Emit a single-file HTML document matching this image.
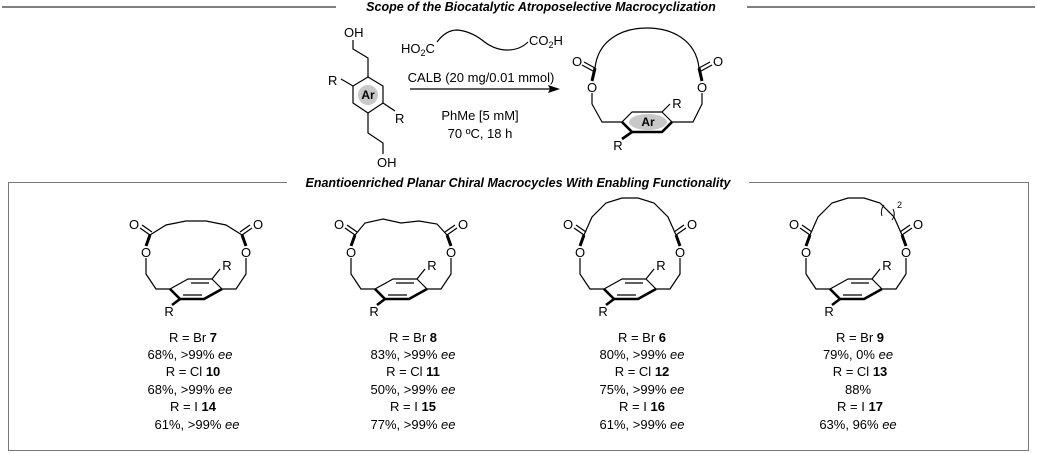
<!DOCTYPE html>
<html><head><meta charset="utf-8"><style>
html,body{margin:0;padding:0;background:#fff;}
svg{display:block;font-family:"Liberation Sans",Arial,sans-serif;}
</style></head><body>
<svg width="1037" height="453" viewBox="0 0 1037 453" xmlns="http://www.w3.org/2000/svg">
<defs>
<g id="mac" fill="none" stroke="#000" stroke-width="1.2" stroke-linejoin="round">
  <polyline points="-26,0 -8,-10 16,-10 26,0"/>
  <polyline points="-26,0 -16,10 8,10 26,0" stroke-width="2.6"/>
  <line x1="-5" y1="-6" x2="13" y2="-6"/>
  <line x1="-13" y1="6" x2="6" y2="6"/>
  <polyline points="-26,0 -40,0 -50,-15 -50,-31"/>
  <polyline points="26,0 40,0 50,-15 50,-31"/>
  <line x1="-50" y1="-43" x2="-46" y2="-54" stroke-width="3"/>
  <line x1="50" y1="-43" x2="46" y2="-54" stroke-width="3"/>
  <line x1="-46" y1="-54" x2="-56" y2="-61"/>
  <line x1="-44" y1="-57" x2="-54" y2="-64"/>
  <line x1="46" y1="-54" x2="56" y2="-61"/>
  <line x1="44" y1="-57" x2="54" y2="-64"/>
  <line x1="16" y1="-10" x2="24" y2="-20"/>
  <line x1="-16" y1="10" x2="-24" y2="16" stroke-width="2.6"/>
  <g stroke="none" fill="#000" font-size="13" text-anchor="middle">
    <text x="-50" y="-32">O</text><text x="50" y="-32">O</text>
    <text x="-62" y="-60">O</text><text x="62" y="-60">O</text>
    <text x="31" y="-19">R</text><text x="-27" y="27">R</text>
  </g>
</g>
</defs>

<!-- top title -->
<line x1="2" y1="7" x2="336" y2="7" stroke="#000" stroke-width="1"/>
<line x1="747" y1="7" x2="1035" y2="7" stroke="#000" stroke-width="1"/>
<text x="541" y="11" font-size="12.5" font-weight="bold" font-style="italic" text-anchor="middle">Scope of the Biocatalytic Atroposelective Macrocyclization</text>

<!-- reactant -->
<g fill="none" stroke="#000" stroke-width="1.2" stroke-linejoin="round">
  <polygon points="368,77 383,86 383,103 368,113 353,103 353,86"/>
  <polyline points="368,77 368,58 353,49 353,40"/>
  <polyline points="368,113 368,133 383,143 383,154"/>
  <line x1="353" y1="86" x2="341" y2="79"/>
  <line x1="383" y1="103" x2="395" y2="111"/>
</g>
<circle cx="368" cy="95" r="10" fill="#c8c8c8"/>
<g font-size="13" fill="#000">
  <text x="344" y="37">OH</text>
  <text x="377" y="167">OH</text>
  <text x="328" y="85">R</text>
  <text x="395" y="123">R</text>
  <text x="368" y="99" text-anchor="middle" font-weight="bold" font-size="12">Ar</text>
</g>

<!-- diacid & conditions -->
<path d="M437,42 Q446,30 457,30 Q470,31 482,40 Q494,50 507,50 Q520,50 528,42" fill="none" stroke="#000" stroke-width="1.2"/>
<text x="401" y="53" font-size="13">HO<tspan font-size="9" dy="3">2</tspan><tspan dy="-3">C</tspan></text>
<text x="529" y="45" font-size="13">CO<tspan font-size="9" dy="3">2</tspan><tspan dy="-3">H</tspan></text>
<text x="481" y="82" font-size="13" text-anchor="middle">CALB (20 mg/0.01 mmol)</text>
<line x1="410" y1="89" x2="552" y2="89" stroke="#000" stroke-width="1.2"/>
<polygon points="560,89 548,85 550,89 548,93" fill="#000"/>
<text x="480" y="120" font-size="13" text-anchor="middle">PhMe [5 mM]</text>
<text x="480" y="138" font-size="13" text-anchor="middle">70 ºC, 18 h</text>

<!-- product -->
<g fill="none" stroke="#000" stroke-width="1.2" stroke-linejoin="round">
  <polyline points="622,122 632,112 662,112 672,122"/>
  <polyline points="622,122 632,132 662,132 672,122" stroke-width="2.6"/>
  <polyline points="622,122 602,122 592,104 592,93"/>
  <polyline points="672,122 693,122 702,104 702,93"/>
  <line x1="592" y1="81" x2="595" y2="68" stroke-width="3"/>
  <line x1="702" y1="81" x2="699" y2="68" stroke-width="3"/>
  <line x1="595" y1="68" x2="584" y2="62"/><line x1="593" y1="71" x2="582" y2="65"/>
  <line x1="699" y1="68" x2="710" y2="62"/><line x1="701" y1="71" x2="712" y2="65"/>
  <path d="M595,68 C598,40 622,28 647,28 C672,28 696,40 699,68"/>
  <line x1="662" y1="112" x2="670" y2="104"/>
  <line x1="632" y1="132" x2="622" y2="139" stroke-width="2.6"/>
</g>
<ellipse cx="648" cy="122" rx="19" ry="8" fill="#c8c8c8"/>
<g font-size="13" fill="#000" text-anchor="middle">
  <text x="648" y="126" font-weight="bold" font-size="12">Ar</text>
  <text x="592" y="92">O</text><text x="702" y="92">O</text>
  <text x="577" y="66">O</text><text x="718" y="66">O</text>
  <text x="677" y="108">R</text><text x="618" y="150">R</text>
</g>

<!-- box -->
<rect x="8.5" y="182.5" width="1020" height="268" fill="none" stroke="#777" stroke-width="1"/>
<rect x="287" y="176" width="462" height="13" fill="#fff"/>
<text x="518" y="187" font-size="12.5" font-weight="bold" font-style="italic" text-anchor="middle">Enantioenriched Planar Chiral Macrocycles With Enabling Functionality</text>

<!-- macrocycles -->
<g transform="translate(196,289)">
  <use href="#mac"/>
  <polyline points="-46,-54 -30,-64 -10,-68 10,-68 30,-64 46,-54" fill="none" stroke="#000" stroke-width="1.2"/>
</g>
<g transform="translate(401,289)">
  <use href="#mac"/>
  <polyline points="-46,-54 -36,-66 -18,-70 0,-66 18,-68 36,-65 46,-54" fill="none" stroke="#000" stroke-width="1.2"/>
</g>
<g transform="translate(630,289)">
  <use href="#mac"/>
  <polyline points="-46,-54 -38,-72 -24,-86 -8,-91 8,-91 24,-86 38,-72 46,-54" fill="none" stroke="#000" stroke-width="1.2"/>
</g>
<g transform="translate(856,289)">
  <use href="#mac"/>
  <polyline points="-46,-54 -38,-72 -24,-86 -8,-91 8,-91 24,-86 38,-72 46,-54" fill="none" stroke="#000" stroke-width="1.2"/>
  <path d="M28,-84 Q24,-79 26,-73" fill="none" stroke="#000" stroke-width="1"/>
  <path d="M37,-80 Q40,-74 36,-69" fill="none" stroke="#000" stroke-width="1"/>
  <text x="41" y="-81" font-size="9">2</text>
</g>

<!-- labels -->
<g font-size="13" text-anchor="middle" fill="#000">
  <text x="193" y="342">R = Br <tspan font-weight="bold">7</tspan></text>
  <text x="190" y="359">68%, &gt;99% <tspan font-style="italic">ee</tspan></text>
  <text x="193" y="376">R = Cl <tspan font-weight="bold">10</tspan></text>
  <text x="190" y="394">68%, &gt;99% <tspan font-style="italic">ee</tspan></text>
  <text x="193" y="411">R = I <tspan font-weight="bold">14</tspan></text>
  <text x="197" y="429">61%, &gt;99% <tspan font-style="italic">ee</tspan></text>

  <text x="413" y="342">R = Br <tspan font-weight="bold">8</tspan></text>
  <text x="413" y="359">83%, &gt;99% <tspan font-style="italic">ee</tspan></text>
  <text x="413" y="376">R = Cl <tspan font-weight="bold">11</tspan></text>
  <text x="413" y="394">50%, &gt;99% <tspan font-style="italic">ee</tspan></text>
  <text x="413" y="411">R = I <tspan font-weight="bold">15</tspan></text>
  <text x="413" y="429">77%, &gt;99% <tspan font-style="italic">ee</tspan></text>

  <text x="642" y="342">R = Br <tspan font-weight="bold">6</tspan></text>
  <text x="642" y="359">80%, &gt;99% <tspan font-style="italic">ee</tspan></text>
  <text x="642" y="376">R = Cl <tspan font-weight="bold">12</tspan></text>
  <text x="642" y="394">75%, &gt;99% <tspan font-style="italic">ee</tspan></text>
  <text x="642" y="411">R = I <tspan font-weight="bold">16</tspan></text>
  <text x="642" y="429">61%, &gt;99% <tspan font-style="italic">ee</tspan></text>

  <text x="860" y="342">R = Br <tspan font-weight="bold">9</tspan></text>
  <text x="858" y="359">79%, 0% <tspan font-style="italic">ee</tspan></text>
  <text x="860" y="376">R = Cl <tspan font-weight="bold">13</tspan></text>
  <text x="858" y="394">88%</text>
  <text x="860" y="411">R = I <tspan font-weight="bold">17</tspan></text>
  <text x="858" y="429">63%, 96% <tspan font-style="italic">ee</tspan></text>
</g>
</svg>
</body></html>
